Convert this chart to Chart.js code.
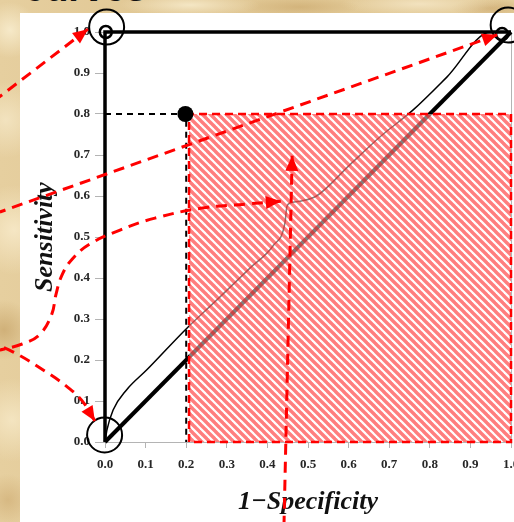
<!DOCTYPE html>
<html>
<head>
<meta charset="utf-8">
<script src="https://cdn.jsdelivr.net/npm/chart.js@4.4.1/dist/chart.umd.min.js"></script>
<style>
  html, body { margin: 0; padding: 0; }
  body {
    width: 514px; height: 522px; overflow: hidden; position: relative;
    background-color: #e0c793;
    background-image:
      radial-gradient(circle at 10px 30px, rgba(248,236,205,.9) 0, rgba(248,236,205,0) 28px),
      radial-gradient(circle at 6px 120px, rgba(244,230,196,.85) 0, rgba(244,230,196,0) 38px),
      radial-gradient(circle at 14px 230px, rgba(247,233,200,.9) 0, rgba(247,233,200,0) 45px),
      radial-gradient(circle at 4px 330px, rgba(196,160,100,.65) 0, rgba(196,160,100,0) 30px),
      radial-gradient(circle at 12px 420px, rgba(246,232,198,.85) 0, rgba(246,232,198,0) 42px),
      radial-gradient(circle at 8px 500px, rgba(205,170,112,.6) 0, rgba(205,170,112,0) 26px),
      radial-gradient(ellipse 70px 12px at 190px 5px, rgba(248,236,205,.85), rgba(248,236,205,0)),
      radial-gradient(ellipse 60px 10px at 300px 7px, rgba(200,164,104,.55), rgba(200,164,104,0)),
      radial-gradient(ellipse 80px 12px at 420px 4px, rgba(246,232,200,.8), rgba(246,232,200,0)),
      radial-gradient(ellipse 40px 9px at 490px 8px, rgba(198,160,100,.55), rgba(198,160,100,0)),
      linear-gradient(90deg, #e6cf9f, #dfc591 40%, #e4cc9a);
  }
  #panel { position: absolute; left: 20px; top: 13px; right: 0; bottom: 0; background: #fff; }
  #heading {
    position: absolute; left: 24px; top: -31px; margin: 0;
    font: bold 38px/38px "Liberation Sans", sans-serif; color: #111; white-space: nowrap;
  }
  #roc { position: absolute; left: 0; top: 0; }
</style>
</head>
<body>
<div id="heading">curves</div>
<div id="panel"></div>
<canvas id="roc" width="514" height="522"></canvas>
<script>
// Axis ticks
const tickValues = [0, 0.1, 0.2, 0.3, 0.4, 0.5, 0.6, 0.7, 0.8, 0.9, 1.0];
const tickLabels = ['0.0', '0.1', '0.2', '0.3', '0.4', '0.5', '0.6', '0.7', '0.8', '0.9', '1.0'];

// Perfect classifier: straight up the left side, then across the top
const perfectX = [0, 0, 1];
const perfectY = [0, 1, 1];

// Chance line
const chanceX = [0, 1];
const chanceY = [0, 1];

// Example ROC curve
const curveX = [0, 0.005, 0.02, 0.053, 0.103, 0.201, 0.275, 0.357, 0.415, 0.443, 0.448, 0.456, 0.48, 0.521, 0.603, 0.677, 0.759, 0.842, 0.95, 1.0];
const curveY = [0, 0.03, 0.078, 0.127, 0.176, 0.277, 0.346, 0.424, 0.48, 0.533, 0.574, 0.583, 0.587, 0.60, 0.676, 0.744, 0.81, 0.89, 1.0, 1.0];

// Operating point and its guide lines
const cutX = [0, 0.2, 0.2];
const cutY = [0.8, 0.8, 0];
const pointX = [0.198];
const pointY = [0.8];

// Shaded region to the right of / below the operating point
const regionX = [0.207, 1.0];
const regionY = [0.8, 0.8];
const regionEdgeX = [0.207, 0.207, 1.0, 1.0, 0.207];
const regionEdgeY = [0, 0.8, 0.8, 0, 0];

// Highlight rings at the corners
const ringBigX = [-0.001, 0.004, 0.993];
const ringBigY = [0.017, 1.012, 1.017];
const ringSmallX = [0.002, 0.978];
const ringSmallY = [1.0, 0.995];

// Pointer arrows (tip first)
const arrowTopX = [-0.042, -0.264];
const arrowTopY = [1.007, 0.839];
const arrowCornerX = [0.966, -0.259];
const arrowCornerY = [0.993, 0.561];
const arrowCurveX = [0.433, 0.345, 0.241, 0.123, 0.037, -0.037, -0.081, -0.106, -0.121, -0.131, -0.160, -0.204, -0.278];
const arrowCurveY = [0.587, 0.580, 0.571, 0.546, 0.517, 0.483, 0.446, 0.407, 0.359, 0.312, 0.263, 0.239, 0.220];
const arrowOriginX = [-0.025, -0.052, -0.086, -0.148, -0.227, -0.278];
const arrowOriginY = [0.051, 0.095, 0.129, 0.173, 0.220, 0.241];
const arrowUpX = [0.461, 0.441];
const arrowUpY = [0.698, -0.195];

const pts = (xs, ys) => xs.map((x, i) => ({ x, y: ys[i] }));

function hatchPattern() {
  const P = 8;
  const c = document.createElement('canvas');
  c.width = P; c.height = P;
  const g = c.getContext('2d');
  g.fillStyle = 'rgba(255,255,255,0.5)';
  g.fillRect(0, 0, P, P);
  g.strokeStyle = 'rgba(255,20,20,0.55)';
  g.lineWidth = 3.4;
  for (const o of [-P, 0, P]) {
    g.beginPath();
    g.moveTo(o - 1, -1);
    g.lineTo(o + P + 1, P + 1);
    g.stroke();
  }
  return g.createPattern(c, 'repeat');
}

const RED = 'rgb(255,0,0)';
const line = (extra) => Object.assign({
  showLine: true, pointRadius: 0, pointHoverRadius: 0, fill: false, clip: false,
  borderColor: '#000', tension: 0
}, extra);
const arrow = (xs, ys, tension) => line({
  data: pts(xs, ys), borderColor: RED, borderWidth: 3, borderDash: [11, 7],
  tension: tension, capBezierPoints: false, arrowHead: true, order: 1
});

// Filled triangle at the first point of each arrow dataset
const arrowHeads = {
  id: 'arrowHeads',
  afterDatasetsDraw(chart) {
    const ctx = chart.ctx;
    chart.data.datasets.forEach((ds, i) => {
      if (!ds.arrowHead) return;
      const el = chart.getDatasetMeta(i).data;
      const tip = el[0], from = el[1];
      const ang = Math.atan2(tip.y - from.y, tip.x - from.x);
      ctx.save();
      ctx.translate(tip.x, tip.y);
      ctx.rotate(ang);
      ctx.beginPath();
      ctx.moveTo(0, 0);
      ctx.lineTo(-15, -6.5);
      ctx.lineTo(-15, 6.5);
      ctx.closePath();
      ctx.fillStyle = ds.borderColor;
      ctx.fill();
      ctx.restore();
    });
  }
};

const tickFont = { family: '"Liberation Serif", serif', size: 13, weight: 'bold' };
const titleFont = { family: '"Liberation Serif", serif', size: 26, weight: 'bold', style: 'italic' };
const GRAY = '#b4b4b4';

new Chart(document.getElementById('roc'), {
  type: 'scatter',
  data: {
    datasets: [
      arrow(arrowTopX, arrowTopY, 0),
      arrow(arrowCornerX, arrowCornerY, 0),
      arrow(arrowCurveX, arrowCurveY, 0.4),
      arrow(arrowOriginX, arrowOriginY, 0.4),
      arrow(arrowUpX, arrowUpY, 0),
      { data: pts(ringBigX, ringBigY), pointRadius: 17.5, pointBorderWidth: 2, pointBorderColor: '#000',
        pointBackgroundColor: 'rgba(0,0,0,0)', clip: false, order: 3 },
      { data: pts(ringSmallX, ringSmallY), pointRadius: 6, pointBorderWidth: 2.5, pointBorderColor: '#000',
        pointBackgroundColor: 'rgba(0,0,0,0)', clip: false, order: 3 },
      { data: pts(pointX, pointY), pointRadius: 8, pointBorderWidth: 0, pointBackgroundColor: '#000', clip: false, order: 4 },
      line({ data: pts(cutX, cutY), borderWidth: 2, borderDash: [6, 5], order: 5 }),
      line({ data: pts(regionEdgeX, regionEdgeY), borderColor: RED, borderWidth: 2.5, borderDash: [8, 5], order: 6 }),
      line({ data: pts(regionX, regionY), borderColor: 'rgba(0,0,0,0)', borderWidth: 1,
             backgroundColor: hatchPattern(), fill: 'origin', order: 7 }),
      line({ data: pts(curveX, curveY), borderWidth: 1.5, cubicInterpolationMode: 'monotone', order: 9 }),
      line({ data: pts(chanceX, chanceY), borderWidth: 4, order: 9 }),
      line({ data: pts(perfectX, perfectY), borderWidth: 3.5, order: 9 })
    ]
  },
  options: {
    responsive: false,
    animation: false,
    events: [],
    layout: { autoPadding: false, padding: { left: 20, top: 32, right: 3, bottom: 0 } },
    plugins: { legend: { display: false }, tooltip: { enabled: false } },
    scales: {
      x: {
        type: 'linear', min: 0, max: 1,
        afterBuildTicks: s => { s.ticks = tickValues.map(v => ({ value: v })); },
        ticks: { callback: (v, i) => tickLabels[i], font: tickFont, color: '#262626', padding: 9,
                 maxRotation: 0, autoSkip: false },
        grid: { color: c => (c.tick && c.tick.value === 1 ? GRAY : 'rgba(0,0,0,0)'),
                tickColor: GRAY, tickLength: 6, lineWidth: 1 },
        border: { color: GRAY, width: 1 },
        title: { display: true, text: '1\u2212Specificity', font: titleFont, color: '#111',
                 padding: { top: 0, bottom: 4 } },
        afterFit: s => { s.height = 80; s.paddingLeft = 0; s.paddingRight = 0; }
      },
      y: {
        type: 'linear', min: 0, max: 1,
        afterBuildTicks: s => { s.ticks = tickValues.map(v => ({ value: v })); },
        ticks: { callback: (v, i) => tickLabels[i], font: tickFont, color: '#262626', padding: 5,
                 autoSkip: false },
        grid: { drawOnChartArea: false, tickColor: GRAY, tickLength: 10, lineWidth: 1 },
        border: { color: GRAY, width: 1 },
        title: { display: true, text: 'Sensitivity', font: titleFont, color: '#111',
                 padding: { top: 10, bottom: 0 } },
        afterFit: s => { s.width = 85; s.paddingTop = 0; s.paddingBottom = 0; }
      }
    }
  },
  plugins: [arrowHeads]
});
</script>
</body>
</html>
